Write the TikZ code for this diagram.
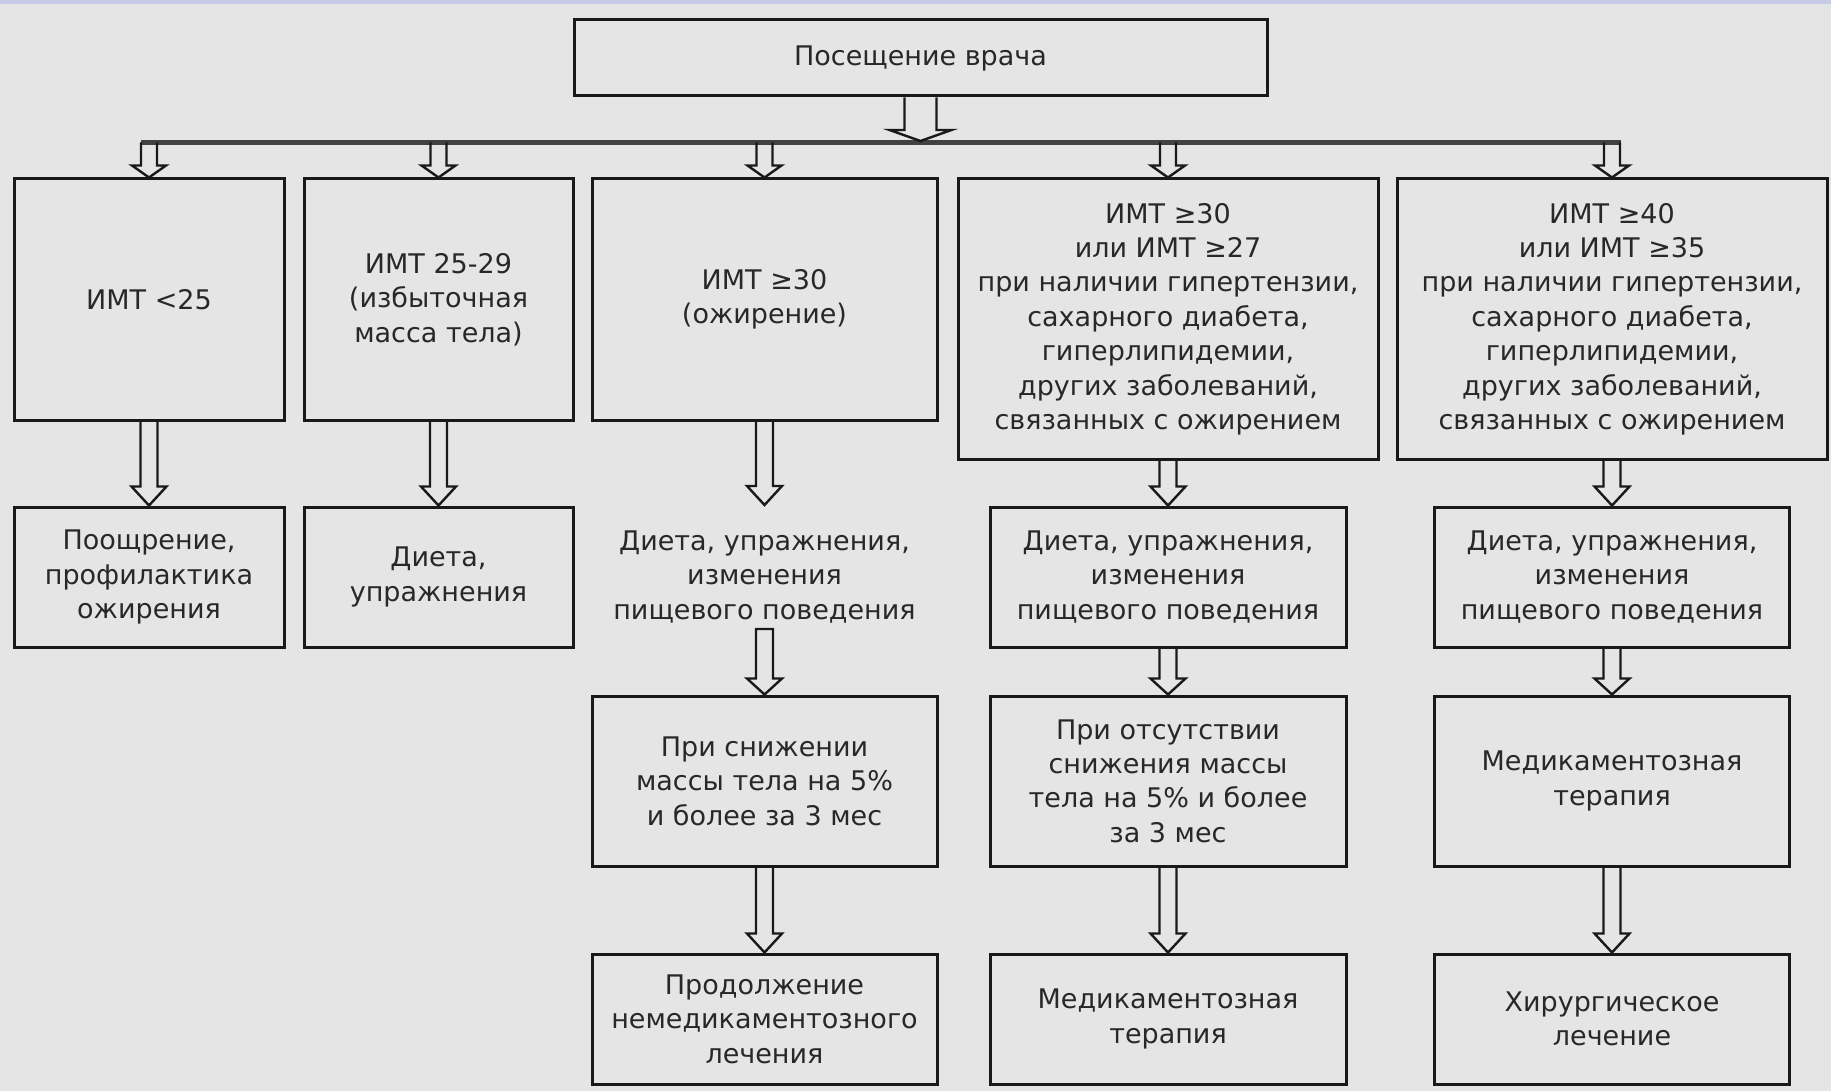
\documentclass[tikz,border=0pt]{standalone}
\usepackage{fontspec}
\setmainfont{DejaVu Sans}
\usetikzlibrary{calc}
\definecolor{bgcol}{RGB}{229,229,229}
\definecolor{bandcol}{RGB}{200,203,232}
\definecolor{linecol}{RGB}{25,25,25}
\definecolor{textcol}{RGB}{40,40,40}
\definecolor{barcol}{RGB}{65,65,65}
\tikzset{
  boxnode/.style={draw=linecol, line width=3pt, inner sep=0pt, align=center,
    font=\fontsize{27pt}{34.4pt}\selectfont, text=textcol},
  txtnode/.style={inner sep=0pt, align=center,
    font=\fontsize{27pt}{34.4pt}\selectfont, text=textcol},
  arrline/.style={draw=linecol, line width=2.4pt, line join=miter},
}
% hollow arrow: #1 start, #2 end, #3 half shaft, #4 half head, #5 head length
\newcommand\harrow[5]{%
  \draw[arrline] let \p1=(#1), \p2=(#2) in
    (\x1-#3pt,\y1) -- (\x1-#3pt,\y2+#5pt) -- (\x1-#4pt,\y2+#5pt) -- (\x1,\y2)
    -- (\x1+#4pt,\y2+#5pt) -- (\x1+#3pt,\y2+#5pt) -- (\x1+#3pt,\y1);}
\newcommand\harrowc[5]{%
  \draw[arrline] let \p1=(#1), \p2=(#2) in
    (\x1-#3pt,\y1) -- (\x1-#3pt,\y2+#5pt) -- (\x1-#4pt,\y2+#5pt) -- (\x1,\y2)
    -- (\x1+#4pt,\y2+#5pt) -- (\x1+#3pt,\y2+#5pt) -- (\x1+#3pt,\y1) -- cycle;}
\begin{document}
\begin{tikzpicture}[x=1pt,y=-1pt]
\useasboundingbox (0,0) rectangle (1831,1091);
\fill[bgcol] (0,0) rectangle (1831,1091);
\fill[bandcol] (0,0) rectangle (1831,4);

% top
\node[boxnode, minimum width=693pt, minimum height=76pt] (top) at (920.5,58) {Посещение врача};

% row 1
\node[boxnode, minimum width=270pt, minimum height=241pt] (b1) at (149,299.5) {ИМТ <25};
\node[boxnode, minimum width=269pt, minimum height=241pt] (b2) at (438.5,299.5) {ИМТ 25-29\\(избыточная\\масса тела)};
\node[boxnode, minimum width=345pt, minimum height=241pt] (b3) at (764.5,299.5) {ИМТ ≥30\\(ожирение)};
\node[boxnode, minimum width=420pt, minimum height=280pt] (b4) at (1168,319) {ИМТ ≥30\\или ИМТ ≥27\\при наличии гипертензии,\\сахарного диабета,\\гиперлипидемии,\\других заболеваний,\\связанных с ожирением};
\node[boxnode, minimum width=430pt, minimum height=280pt] (b5) at (1612,319) {ИМТ ≥40\\или ИМТ ≥35\\при наличии гипертензии,\\сахарного диабета,\\гиперлипидемии,\\других заболеваний,\\связанных с ожирением};

% row 2
\node[boxnode, minimum width=270pt, minimum height=140pt] (c1) at (149,577) {Поощрение,\\профилактика\\ожирения};
\node[boxnode, minimum width=269pt, minimum height=140pt] (c2) at (438.5,577) {Диета,\\упражнения};
\node[txtnode] (c3) at (764.5,577) {Диета, упражнения,\\изменения\\пищевого поведения};
\node[boxnode, minimum width=356pt, minimum height=140pt] (c4) at (1168,577) {Диета, упражнения,\\изменения\\пищевого поведения};
\node[boxnode, minimum width=355pt, minimum height=140pt] (c5) at (1612,577) {Диета, упражнения,\\изменения\\пищевого поведения};

% row 3
\node[boxnode, minimum width=345pt, minimum height=170pt] (d3) at (764.5,781) {При снижении\\массы тела на 5\%\\и более за 3 мес};
\node[boxnode, minimum width=356pt, minimum height=170pt] (d4) at (1168,781) {При отсутствии\\снижения массы\\тела на 5\% и более\\за 3 мес};
\node[boxnode, minimum width=355pt, minimum height=170pt] (d5) at (1612,781) {Медикаментозная\\терапия};

% row 4
\node[boxnode, minimum width=345pt, minimum height=130pt] (e3) at (764.5,1019) {Продолжение\\немедикаментозного\\лечения};
\node[boxnode, minimum width=356pt, minimum height=130pt] (e4) at (1168,1019) {Медикаментозная\\терапия};
\node[boxnode, minimum width=355pt, minimum height=130pt] (e5) at (1612,1019) {Хирургическое\\лечение};

% distribution bar
\coordinate (barL) at (141,142.5);
\coordinate (barR) at (1621,142.5);
\coordinate (barM) at (921,141);
\draw[barcol, line width=5pt] (barL) -- (barR);
\harrow{top.south}{barM}{16}{31}{11}

\coordinate (t1) at (149,142.5);
\coordinate (t2) at (438.5,142.5);
\coordinate (t3) at (764.5,142.5);
\coordinate (t4) at (1168,142.5);
\coordinate (t5) at (1612,142.5);
\harrow{t1}{b1.north}{8}{17}{12}
\harrow{t2}{b2.north}{8}{17}{12}
\harrow{t3}{b3.north}{8}{17}{12}
\harrow{t4}{b4.north}{8}{17}{12}
\harrow{t5}{b5.north}{8}{17}{12}

% row1 -> row2
\coordinate (c3top) at (764.5,505);
\harrow{b1.south}{c1.north}{8.5}{17.5}{19}
\harrow{b2.south}{c2.north}{8.5}{17.5}{19}
\harrow{b3.south}{c3top}{8.5}{17.5}{19}
\harrow{b4.south}{c4.north}{8.5}{17.5}{19}
\harrow{b5.south}{c5.north}{8.5}{17.5}{19}

% row2 -> row3
\coordinate (c3bot) at (764.5,629);
\harrowc{c3bot}{d3.north}{8.5}{17.5}{16}
\harrow{c4.south}{d4.north}{8.5}{17.5}{16}
\harrow{c5.south}{d5.north}{8.5}{17.5}{16}

% row3 -> row4
\harrow{d3.south}{e3.north}{8.5}{17.5}{19}
\harrow{d4.south}{e4.north}{8.5}{17.5}{19}
\harrow{d5.south}{e5.north}{8.5}{17.5}{19}
\end{tikzpicture}
\end{document}
